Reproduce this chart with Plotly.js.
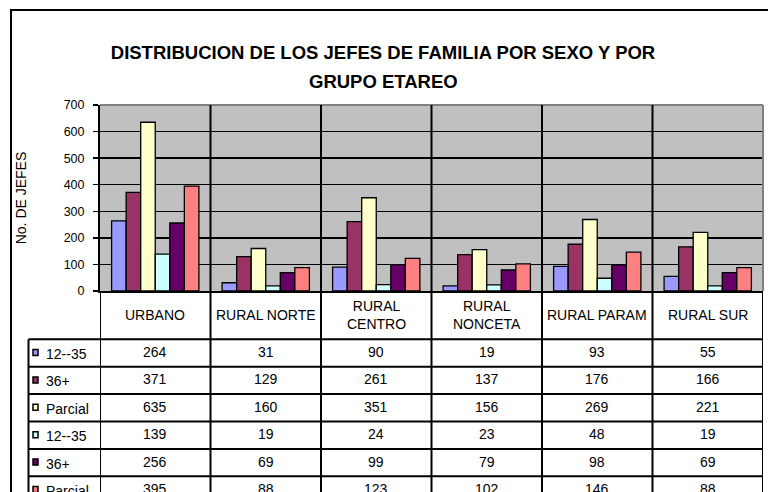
<!DOCTYPE html>
<html>
<head>
<meta charset="utf-8">
<script src="https://cdn.plot.ly/plotly-3.0.1.min.js"></script>
<style>html,body{margin:0;padding:0;background:#fff;}#chart{width:768px;height:492px;}</style>
</head>
<body>
<div id="chart"></div>
<script>
// ---- data ----
var categories = ["URBANO", "RURAL NORTE", "RURAL CENTRO", "RURAL NONCETA", "RURAL PARAM", "RURAL SUR"];
var categoryLabels = ["URBANO", "RURAL NORTE", "RURAL<br>CENTRO", "RURAL<br>NONCETA", "RURAL PARAM", "RURAL SUR"];
var seriesNames = ["12--35", "36+", "Parcial", "12--35", "36+", "Parcial"];
var s1_12_35 = [264, 31, 90, 19, 93, 55];
var s1_36plus = [371, 129, 261, 137, 176, 166];
var s1_parcial = [635, 160, 351, 156, 269, 221];
var s2_12_35 = [139, 19, 24, 23, 48, 19];
var s2_36plus = [256, 69, 99, 79, 98, 69];
var s2_parcial = [395, 88, 123, 102, 146, 88];
var seriesColors = ["#9999FF", "#993366", "#FFFFCC", "#CCFFFF", "#660066", "#FF8080"];
var yTicks = [0, 100, 200, 300, 400, 500, 600, 700];
var titleLine1 = "DISTRIBUCION DE LOS JEFES DE FAMILIA POR SEXO Y POR";
var titleLine2 = "GRUPO ETAREO";

var allSeries = [s1_12_35, s1_36plus, s1_parcial, s2_12_35, s2_36plus, s2_parcial];

// ---- layout constants (pixels) ----
var W = 768, H = 492;
var plotL = 100, plotR = 763, plotT = 105, plotB = 291;
var tableL = 28.5;
var headerB = 339.3;
var rowH = 27.4;
var FONT = "Arial, 'Liberation Sans', sans-serif";

function px(x) { return x / W; }
function py(y) { return 1 - y / H; }

var traces = allSeries.map(function (vals, k) {
  return {
    type: "bar",
    name: seriesNames[k],
    x: categories,
    y: vals,
    marker: { color: seriesColors[k], line: { color: "#000", width: 1.3 } },
    showlegend: false,
    hoverinfo: "x+y+name"
  };
});

var shapes = [];
var annotations = [];

// outer frame
shapes.push({ type: "rect", xref: "paper", yref: "paper", x0: px(11), x1: px(770), y0: -0.1, y1: py(10), line: { color: "#000", width: 2 } });
// plot area gray top/right border
shapes.push({ type: "line", xref: "paper", yref: "paper", x0: px(plotL), x1: px(plotR), y0: py(plotT), y1: py(plotT), line: { color: "#808080", width: 2 } });
shapes.push({ type: "line", xref: "paper", yref: "paper", x0: px(plotR), x1: px(plotR), y0: py(plotT), y1: py(plotB), line: { color: "#808080", width: 2 } });

// vertical category separators (plot + table)
for (var i = 0; i <= categories.length; i++) {
  var edge = (i === 0 || i === categories.length);
  shapes.push({
    type: "line", xref: "x", yref: "paper",
    x0: i - 0.5, x1: i - 0.5,
    y0: -0.1, y1: edge ? py(plotB) : py(plotT),
    line: { color: "#000", width: 2 }
  });
}
// table horizontal lines
var nRows = allSeries.length;
for (var r = 0; r <= nRows; r++) {
  var yy = headerB + r * rowH;
  shapes.push({ type: "line", xref: "paper", yref: "paper", x0: px(tableL), x1: px(plotR), y0: py(yy), y1: py(yy), line: { color: "#000", width: 2 } });
}
// legend column left edge
shapes.push({ type: "line", xref: "paper", yref: "paper", x0: px(tableL), x1: px(tableL), y0: py(headerB), y1: -0.1, line: { color: "#000", width: 2 } });

// second title line
annotations.push({ xref: "paper", yref: "paper", x: px(383), y: py(81.5), text: "<b>" + titleLine2 + "</b>", showarrow: false, xanchor: "center", yanchor: "middle", font: { family: FONT, size: 18.5, color: "#000" } });

// header labels
categoryLabels.forEach(function (lab, i) {
  annotations.push({ xref: "x", yref: "paper", x: i, y: py((plotB + headerB) / 2), text: lab, showarrow: false, xanchor: "center", yanchor: "middle", font: { family: FONT, size: 14, color: "#000" } });
});
// table values, legend keys, legend labels
allSeries.forEach(function (vals, k) {
  var cy = headerB + (k + 0.5) * rowH;
  vals.forEach(function (v, i) {
    annotations.push({ xref: "x", yref: "paper", x: i, y: py(cy - 1), text: String(v), showarrow: false, xanchor: "center", yanchor: "middle", font: { family: FONT, size: 14, color: "#000" } });
  });
  annotations.push({ xref: "paper", yref: "paper", x: px(44), y: py(cy + 1), text: seriesNames[k], showarrow: false, xanchor: "left", yanchor: "middle", font: { family: FONT, size: 14, color: "#000" } });
  shapes.push({ type: "rect", xref: "paper", yref: "paper", x0: px(33), x1: px(38), y0: py(cy - 3.5), y1: py(cy + 2.5), fillcolor: seriesColors[k], line: { color: "#000", width: 1.5 } });
});

var layout = {
  width: W, height: H,
  margin: { l: 0, r: 0, t: 0, b: 0 },
  paper_bgcolor: "#fff",
  plot_bgcolor: "#C0C0C0",
  barmode: "group",
  bargap: 0.21,
  bargroupgap: 0,
  title: {
    text: "<b>" + titleLine1 + "</b>",
    x: px(383), xanchor: "center",
    y: py(53), yanchor: "middle",
    font: { family: FONT, size: 18.5, color: "#000" }
  },
  xaxis: {
    type: "category",
    domain: [px(plotL), px(plotR)],
    range: [-0.5, categories.length - 0.5],
    showticklabels: false,
    showgrid: false,
    ticks: "",
    showline: true, linecolor: "#000", linewidth: 2,
    fixedrange: true
  },
  yaxis: {
    domain: [py(plotB), py(plotT)],
    range: [0, 700],
    tickvals: yTicks,
    ticktext: yTicks.map(String),
    ticks: "outside", ticklen: 5, tickcolor: "#000", tickwidth: 1.5,
    ticklabelstandoff: 6,
    showline: true, linecolor: "#000", linewidth: 2,
    showgrid: true, gridcolor: "#000", gridwidth: 1.5,
    zeroline: false,
    tickfont: { family: FONT, size: 12.5, color: "#000" },
    title: { text: "No. DE JEFES", font: { family: FONT, size: 14, color: "#000" }, standoff: 34 },
    fixedrange: true
  },
  shapes: shapes,
  annotations: annotations
};

Plotly.newPlot("chart", traces, layout, { displayModeBar: false, staticPlot: true });
</script>
</body>
</html>
